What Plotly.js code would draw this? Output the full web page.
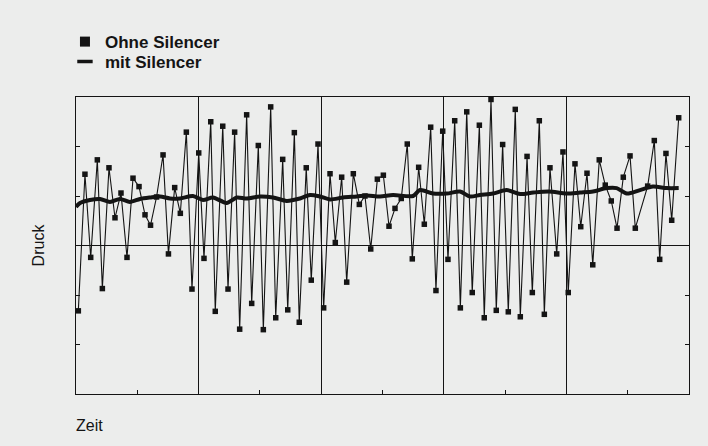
<!DOCTYPE html>
<html>
<head>
<meta charset="utf-8">
<script src="https://cdn.plot.ly/plotly-3.0.1.min.js"></script>
<style>
html,body{margin:0;padding:0;background:#ecedec;}
#chart{width:708px;height:446px;}
</style>
</head>
<body>
<div id="chart"></div>
<script>
// Series "Ohne Silencer" (without silencer): time and pressure readings
const timeOhne = [0.19,0.73,1.20,1.74,2.15,2.69,3.18,3.67,4.16,4.65,5.14,5.63,6.08,6.57,7.10,7.54,8.05,8.51,9.00,9.46,
  10.01,10.44,10.99,11.36,11.97,12.40,12.94,13.35,13.92,14.33,14.87,15.28,15.88,16.29,16.86,17.27,17.81,18.21,18.78,19.19,
  19.74,20.20,20.72,21.15,21.67,22.08,22.62,23.11,23.57,24.04,24.58,25.07,25.53,26.02,26.53,27.02,27.43,27.95,28.41,28.93,
  29.36,29.91,30.34,30.89,31.35,31.87,32.32,32.90,33.30,33.85,34.28,34.80,35.26,35.83,36.24,36.79,37.22,37.79,38.20,38.66,
  39.21,39.72,40.15,40.70,41.17,41.68,42.15,42.68,43.17,43.66,44.13,44.64,45.19,45.62,46.63,47.17,47.61,48.12,48.59,49.16];
const druckOhne = [-1.32,1.44,-0.24,1.73,-0.87,1.57,0.56,1.06,-0.24,1.36,1.19,0.62,0.41,0.98,1.83,-0.17,1.17,0.65,2.29,-0.88,
  1.87,-0.26,2.50,-1.33,2.41,-0.88,2.29,-1.69,2.64,-1.17,2.02,-1.70,2.80,-1.46,1.74,-1.30,2.28,-1.55,1.57,-0.70,
  2.05,-1.26,1.45,0.06,1.38,-0.74,1.45,0.83,1.00,-0.07,1.34,1.42,0.39,0.75,0.95,2.05,-0.27,1.58,0.43,2.39,
  -0.91,2.31,-0.28,2.52,-1.26,2.70,-0.95,2.43,-1.46,2.95,-1.31,2.04,-1.34,2.75,-1.44,1.80,-0.95,2.52,-1.39,1.57,
  -0.17,1.89,-0.95,1.65,0.38,1.46,-0.39,1.73,1.22,0.90,0.35,1.38,1.81,0.35,1.20,2.12,-0.28,1.86,0.51,2.58];

// Series "mit Silencer" (with silencer)
const timeMit = [0,0.33,1.14,1.96,2.77,3.59,4.40,5.22,6.04,6.85,7.67,8.48,9.54,10.36,11.17,12.29,13.11,13.92,15.01,16.07,
  17.19,18.27,19.09,19.90,20.72,21.78,22.90,23.71,24.80,25.86,27.49,28.06,29.12,30.24,31.32,32.14,32.95,34.01,35.13,36.22,
  37.30,38.58,40.02,41.11,42.17,43.29,44.10,44.92,46.00,47.06,48.18,49.16];
const druckMit = [0.78,0.86,0.92,0.94,0.88,0.94,0.88,0.94,0.97,0.99,0.95,0.95,1.00,0.92,0.97,0.86,0.97,0.95,0.99,0.97,
  0.90,0.95,1.02,0.99,0.93,0.97,0.99,1.01,0.99,1.02,1.00,1.12,1.05,1.05,1.09,0.99,1.02,1.05,1.12,1.04,
  1.07,1.09,1.05,1.07,1.09,1.16,1.16,1.05,1.12,1.19,1.16,1.16];

const seriesNames = ['Ohne Silencer', 'mit Silencer'];
const axisTitles = {x: 'Zeit', y: 'Druck'};

const ink = '#141414';
const bg = '#ecedec';

const traces = [
  {x: timeOhne, y: druckOhne, type: 'scatter', mode: 'lines+markers', showlegend: false,
   line: {color: ink, width: 1.1},
   marker: {symbol: 'square', size: 5.5, color: ink}, hoverinfo: 'skip'},
  {x: timeMit, y: druckMit, type: 'scatter', mode: 'lines', showlegend: false,
   line: {color: ink, width: 4, shape: 'spline', smoothing: 0.8}, hoverinfo: 'skip'},
  // legend entries
  {x: [null], y: [null], type: 'scatter', mode: 'markers', name: seriesNames[0], legend: 'legend',
   marker: {symbol: 'square', size: 10, color: ink}},
  {x: [null], y: [null], type: 'scatter', mode: 'markers', name: seriesNames[1], legend: 'legend2',
   marker: {symbol: 'line-ew', size: 11, color: ink, line: {color: ink, width: 3.5}}}
];

const legendFont = {size: 17, family: 'Liberation Sans, Arial, sans-serif', weight: 'bold', color: ink};

const layout = {
  width: 708, height: 446,
  paper_bgcolor: bg, plot_bgcolor: bg,
  margin: {l: 76, r: 19, t: 97, b: 52},
  font: {family: 'Liberation Sans, Arial, sans-serif', color: ink, size: 16},
  showlegend: true,
  legend: {
    x: -0.018, xanchor: 'left', y: 1.185, yanchor: 'middle',
    bgcolor: 'rgba(0,0,0,0)', borderwidth: 0, font: legendFont
  },
  legend2: {
    x: -0.018, xanchor: 'left', y: 1.118, yanchor: 'middle',
    bgcolor: 'rgba(0,0,0,0)', borderwidth: 0, font: legendFont
  },
  xaxis: {
    range: [0, 50], dtick: 10, tick0: 0,
    showgrid: true, gridcolor: ink, gridwidth: 1,
    showline: true, linecolor: ink, linewidth: 1.2, mirror: true,
    ticks: 'inside', ticklen: 4, tickcolor: ink,
    minor: {dtick: 5, ticks: 'inside', ticklen: 4, tickcolor: ink, showgrid: false},
    showticklabels: false, zeroline: false, fixedrange: true
  },
  yaxis: {
    range: [-3, 3], dtick: 1, tick0: 0,
    showgrid: false,
    zeroline: true, zerolinecolor: ink, zerolinewidth: 1,
    showline: true, linecolor: ink, linewidth: 1.2, mirror: 'ticks',
    ticks: 'inside', ticklen: 4, tickcolor: ink,
    showticklabels: false, fixedrange: true,
    title: {text: axisTitles.y, standoff: 26, font: {size: 16, color: ink}}
  },
  annotations: [
    {text: axisTitles.x, xref: 'paper', yref: 'paper', x: 0, y: -0.105,
     xanchor: 'left', yanchor: 'middle', showarrow: false, xshift: -2,
     font: {size: 16, color: ink}}
  ]
};

Plotly.newPlot('chart', traces, layout, {displayModeBar: false, staticPlot: true});
</script>
</body>
</html>
